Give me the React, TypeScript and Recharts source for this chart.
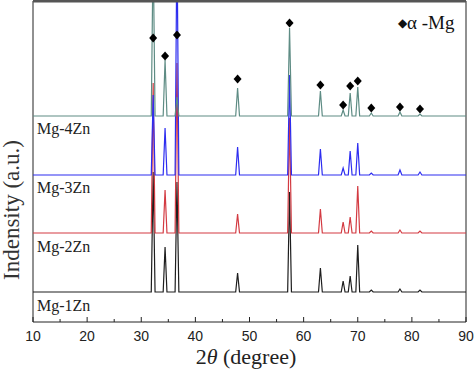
import {
  ComposedChart,
  Line,
  Scatter,
  XAxis,
  YAxis,
  ReferenceArea,
  ReferenceLine,
} from "recharts";

// peak positions (2theta) shared by all four patterns
const peaks = [32.2, 34.4, 36.6, 47.8, 57.4, 63.1, 67.3, 68.6, 70.0, 72.5, 77.8, 81.5];

// peak heights above each baseline
const mg1Zn = [120, 45, 110, 19, 100, 24, 11, 16, 47, 2, 3, 2];
const mg2Zn = [150, 43, 170, 19, 115, 24, 11, 16, 47, 2, 3, 2];
const mg3Zn = [80, 47, 240, 28, 100, 26, 7, 24, 32, 2, 5, 3];
const mg4Zn = [170, 56, 19, 28, 88, 25, 6, 23, 29, 3, 4, 2];

// vertical offsets of the stacked patterns
const offsets = { mg1Zn: 30, mg2Zn: 89, mg3Zn: 147, mg4Zn: 206 };

// alpha-Mg markers above the top pattern
const markerY = [284, 266, 287, 243, 299, 237, 217, 236, 241, 214, 215, 213];

const xTicks = [10, 15, 20, 25, 30, 35, 40, 45, 50, 55, 60, 65, 70, 75, 80, 85, 90];

const series = [
  { key: "mg1Zn", values: mg1Zn, color: "#1e1e1e" },
  { key: "mg2Zn", values: mg2Zn, color: "#d33b42" },
  { key: "mg3Zn", values: mg3Zn, color: "#2d2df0" },
  { key: "mg4Zn", values: mg4Zn, color: "#5e8c84" },
];

const half = 0.35;

const baseRow = (x: number) => {
  const row: Record<string, number> = { x };
  series.forEach((s) => (row[s.key] = offsets[s.key as keyof typeof offsets]));
  return row;
};

const data: Record<string, number>[] = [baseRow(10)];
peaks.forEach((p, i) => {
  data.push(baseRow(p - half));
  const top = baseRow(p);
  series.forEach((s) => (top[s.key] += s.values[i]));
  data.push(top);
  data.push(baseRow(p + half));
});
data.push(baseRow(90));

const markers = peaks.map((p, i) => ({ x: p, y: markerY[i] }));

const Diamond = (props: any) => {
  const { cx, cy } = props;
  return (
    <polygon
      points={`${cx},${cy - 4.5} ${cx + 4},${cy} ${cx},${cy + 4.5} ${cx - 4},${cy}`}
      fill="#000"
    />
  );
};

const Tick = (props: any) => {
  const { x, y, payload } = props;
  const major = payload.value % 10 === 0;
  return (
    <g>
      <line x1={x} y1={y} x2={x} y2={y - (major ? 5 : 3)} stroke="#222" />
      {major && (
        <text
          x={x}
          y={y + 19}
          textAnchor="middle"
          fontFamily="'Liberation Sans', Arial, sans-serif"
          fontSize={14}
          fill="#222"
        >
          {payload.value}
        </text>
      )}
    </g>
  );
};

const serif = "'Liberation Serif', 'Times New Roman', serif";

const labelStyle = (top: number): React.CSSProperties => ({
  position: "absolute",
  left: 37,
  top,
  fontFamily: serif,
  fontSize: 16,
  color: "#222",
  lineHeight: "16px",
});

export default function App() {
  return (
    <div style={{ position: "relative", width: 474, height: 369, background: "#fff" }}>
      <style>{`body{margin:0}`}</style>
      <ComposedChart
        width={474}
        height={369}
        data={data}
        margin={{ top: 1, right: 8, bottom: 0, left: 33 }}
      >
        <XAxis
          type="number"
          dataKey="x"
          domain={[10, 90]}
          ticks={xTicks}
          interval={0}
          tickLine={false}
          axisLine={false}
          tickSize={0}
          tickMargin={0}
          height={47}
          tick={<Tick />}
        />
        <YAxis hide domain={[0, 321]} allowDataOverflow type="number" />
        <ReferenceArea
          x1={10}
          x2={90}
          y1={0}
          y2={321}
          fill="none"
          stroke="#222"
          strokeWidth={1}
        />
        {series.map((s) => (
          <Line
            key={s.key}
            dataKey={s.key}
            type="linear"
            stroke={s.color}
            strokeWidth={1.2}
            dot={false}
            isAnimationActive={false}
          />
        ))}
        <Scatter
          data={markers}
          dataKey="y"
          shape={<Diamond />}
          isAnimationActive={false}
        />
        <ReferenceLine y={321} stroke="#555" strokeWidth={3} />
      </ComposedChart>

      <div style={labelStyle(121)}>Mg-4Zn</div>
      <div style={labelStyle(180)}>Mg-3Zn</div>
      <div style={labelStyle(239)}>Mg-2Zn</div>
      <div style={labelStyle(298)}>Mg-1Zn</div>

      <div
        style={{
          position: "absolute",
          left: 398,
          top: 12,
          fontFamily: serif,
          fontSize: 19,
          color: "#111",
          whiteSpace: "nowrap",
        }}
      >
        <span style={{ fontSize: 12, position: "relative", top: -2 }}>◆</span>α -Mg
      </div>

      <div
        style={{
          position: "absolute",
          left: 12,
          top: 210,
          transform: "translate(-50%, -50%) rotate(-90deg)",
          fontFamily: serif,
          fontSize: 23,
          color: "#333",
          whiteSpace: "nowrap",
        }}
      >
        Indensity (a.u.)
      </div>

      <div
        style={{
          position: "absolute",
          left: 246,
          top: 357,
          transform: "translate(-50%, -50%)",
          fontFamily: serif,
          fontSize: 22,
          color: "#222",
          whiteSpace: "nowrap",
        }}
      >
        2<i>θ</i> (degree)
      </div>
    </div>
  );
}
